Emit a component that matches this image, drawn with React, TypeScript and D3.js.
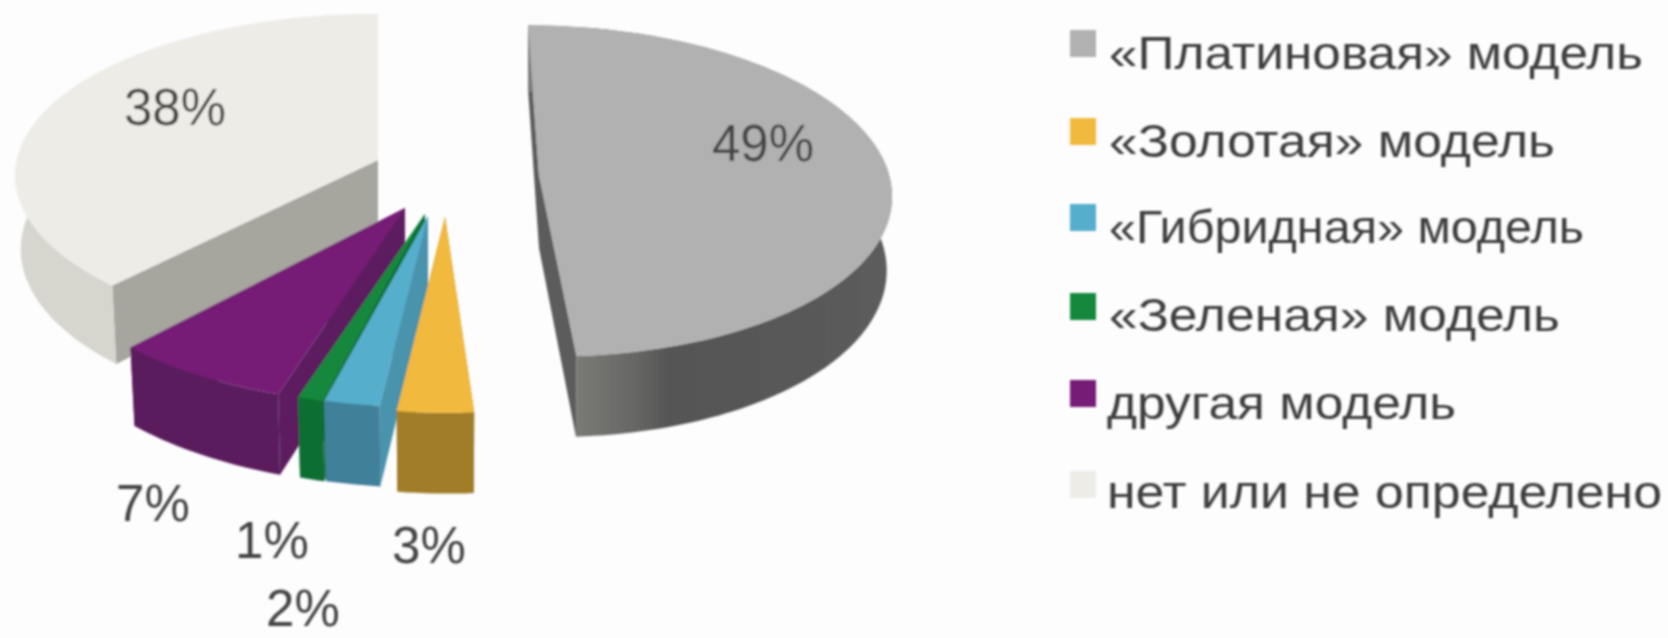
import React from "react";
import * as d3 from "d3";

const width = 1668;
const height = 638;

// data
const names = [
  "«Платиновая» модель",
  "«Золотая» модель",
  "«Гибридная» модель",
  "«Зеленая» модель",
  "другая модель",
  "нет или не определено",
];
const values = [49, 3, 2, 1, 7, 38];

// colours
const topColors = ["#b1b1b1", "#f1b93e", "#55aecb", "#17883c", "#761c76", "#eeece6"];
const wallColors = ["url(#wallGrey)", "#a17d2c", "#3f8099", "#0b6e33", "#5a1c5d", "#d6d5ce"];
const faceColors = ["#5b5b5b", "#a17d2c", "#4a93ad", "#0b6e33", "#5c1a5f", "#a6a69f"];

// exploded position of each slice: apex, radii, skew
const apexX = [539, 445, 428, 425, 405, 378];
const apexY = [175, 217, 216, 214, 208, 160];
const radiusX = [350, 373, 405, 373, 373, 361];
const radiusY = [164, 177, 173, 175, 178, 160];
const skew = [-12, -3, -7, 0, 0, 0];
const drawOrder = [5, 4, 3, 2, 1, 0];

const persp = 0.096;
const depth = 73;
const rimShrink = 0.985;

// percent labels
const labelX = [712, 392, 266, 235, 116, 124];
const labelY = [161, 563, 626, 558, 521, 125];

// legend
const swatchTop = [30, 118, 204, 293, 380, 471];
const legendBase = [69, 157, 243, 331, 419, 508];
const legendX = [1109, 1109, 1109, 1109, 1107, 1107];
const legendWidth = [534, 446, 475, 451, 349, 555];

const pie = d3.pie<number>().sort(null).value((d) => d).startAngle(0).endAngle(Math.PI * 2);
const arcs = pie(values);

const project = (i: number, a: number, lower: boolean): [number, number] => {
  const X = Math.sin(a);
  const Y = Math.cos(a);
  const w = 1 + persp * Y;
  const dx = (radiusX[i] * X + skew[i] * Y) / w;
  const dy = (-radiusY[i] * Y) / w;
  if (!lower) return [apexX[i] + dx, apexY[i] + dy];
  return [apexX[i] + dx * rimShrink, apexY[i] + dy + depth / w];
};

const line = d3.line<[number, number]>();

const angles = (a0: number, a1: number) => {
  const n = Math.max(4, Math.ceil((a1 - a0) * 40));
  return d3.range(n + 1).map((k) => a0 + ((a1 - a0) * k) / n);
};

const topPath = (i: number) => {
  const { startAngle, endAngle } = arcs[i];
  const rim = angles(startAngle, endAngle).map((a) => project(i, a, false));
  return line([[apexX[i], apexY[i]], ...rim]) + "Z";
};

const wallPath = (i: number) => {
  const { startAngle, endAngle } = arcs[i];
  const as = angles(startAngle, endAngle);
  const up = as.map((a) => project(i, a, false));
  const down = as.map((a) => project(i, a, true)).reverse();
  return line([...up, ...down]) + "Z";
};

const facePath = (i: number, a: number) => {
  const ax = apexX[i];
  const ay = apexY[i];
  return (
    line([
      [ax, ay],
      project(i, a, false),
      project(i, a, true),
      [ax, ay + depth],
    ]) + "Z"
  );
};

export default function App() {
  return (
    <svg
      width={width}
      height={height}
      style={{ position: "absolute", left: 0, top: 0 }}
      fontFamily="'Liberation Sans', Arial, sans-serif"
    >
      <defs>
        <linearGradient id="wallGrey" gradientUnits="userSpaceOnUse" x1={570} x2={900} y1={0} y2={0}>
          <stop offset="0" stopColor="#7c7c78" />
          <stop offset="0.2" stopColor="#666664" />
          <stop offset="0.3" stopColor="#555555" />
          <stop offset="1" stopColor="#5c5c5c" />
        </linearGradient>
        <filter id="soft" x="-5%" y="-5%" width="110%" height="110%">
          <feGaussianBlur stdDeviation="1.2" />
        </filter>
      </defs>
      <rect width={width} height={height} fill="#fdfdfe" />
      <g filter="url(#soft)">
        {drawOrder.map((i) => (
          <g key={i}>
            <path d={facePath(i, arcs[i].endAngle)} fill={faceColors[i]} />
            <path d={facePath(i, arcs[i].startAngle)} fill={faceColors[i]} />
            <path d={wallPath(i)} fill={wallColors[i]} />
            <path d={topPath(i)} fill={topColors[i]} />
          </g>
        ))}
        {values.map((v, i) => (
          <text key={i} x={labelX[i]} y={labelY[i]} fontSize={51} fill="#454545">
            {v}%
          </text>
        ))}
        {names.map((n, i) => (
          <g key={n}>
            <rect x={1070} y={swatchTop[i]} width={26} height={27} fill={topColors[i]} />
            <text
              x={legendX[i]}
              y={legendBase[i]}
              fontSize={47}
              fill="#3c3c3c"
              textLength={legendWidth[i]}
              lengthAdjust="spacingAndGlyphs"
            >
              {n}
            </text>
          </g>
        ))}
      </g>
    </svg>
  );
}
